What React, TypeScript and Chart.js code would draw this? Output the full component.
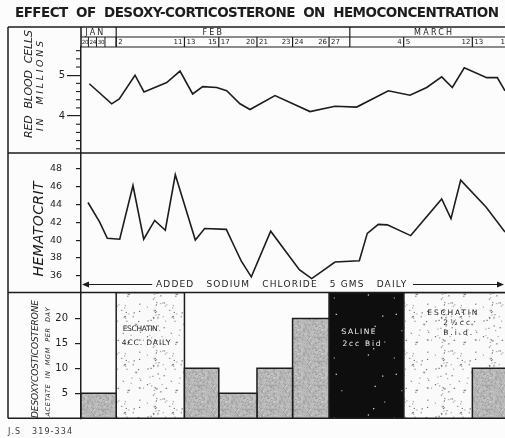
import React, { useEffect, useRef } from 'react';
import { Chart, registerables } from 'chart.js';

Chart.register(...registerables);

// ---------------- data ----------------
const TITLE = 'EFFECT  OF  DESOXY-CORTICOSTERONE  ON  HEMOCONCENTRATION';

// x = position along the dated strip (0 = first column, 100 = right edge of the sheet)
const months = ['JAN', 'FEB', 'MARCH'];
const monthStart = [0, 8.3, 63.4];
const monthLabelAt = [3.4, 31.2, 83.3];

const janDays = ['20', '24', '30'];
const janDayEnd = [1.75, 3.65, 5.65];

const periodEdges = [8.3, 24.4, 32.5, 41.5, 49.9, 58.5, 76.1, 92.3, 101.5];
const periodFirstDay = ['2', '13', '17', '21', '24', '27', '5', '13'];
const periodLastDay = ['11', '15', '20', '23', '26', '4', '12', '16'];

const rbcX = [1.96, 7.24, 9.03, 12.74, 14.86, 20.21, 23.35, 26.34, 28.7, 32.0, 34.36, 37.5, 39.86,
  45.75, 54.01, 59.91, 65.02, 72.48, 77.59, 81.53, 85.07, 87.57, 90.4, 95.68, 98.18, 100];
const rbcMillions = [4.79, 4.30, 4.42, 5.00, 4.59, 4.82, 5.10, 4.54, 4.72, 4.70, 4.62, 4.30, 4.16,
  4.50, 4.11, 4.24, 4.22, 4.62, 4.51, 4.70, 4.96, 4.70, 5.18, 4.94, 4.94, 4.62];
const rbcTicks = [4, 5];
const rbcMinorTicks = [3.2, 3.4, 3.6, 3.8, 4.2, 4.4, 4.6, 4.8, 5.2, 5.4, 5.6];

const hctX = [1.65, 4.41, 6.2, 9.13, 12.26, 14.79, 17.38, 19.88, 22.24, 26.96, 29.17, 34.27, 36.25,
  37.81, 40.17, 44.74, 51.49, 54.41, 59.91, 65.64, 67.52, 70.12, 72.24, 77.76, 85.07, 87.26, 89.55,
  95.52, 100];
const hctPercent = [44.2, 42.0, 40.2, 40.1, 46.1, 40.1, 42.2, 41.1, 47.3, 40.0, 41.3, 41.2, 39.2,
  37.65, 35.9, 41.0, 36.7, 35.7, 37.55, 37.7, 40.75, 41.75, 41.7, 40.5, 44.6, 42.4, 46.7, 43.7, 40.9];
const hctTicks = [36, 38, 40, 42, 44, 46, 48];

const doseFrom = [0, 24.4, 32.5, 41.5, 49.9, 92.3];
const doseTo = [8.3, 32.5, 41.5, 49.9, 58.5, 101.5];
const doseMg = [5, 10, 5, 10, 20, 10];
const doseTicks = [5, 10, 15, 20];

const treatmentFrom = [8.3, 58.5, 76.1];
const treatmentTo = [24.4, 76.1, 101.5];
const treatmentKind = ['stipple', 'black', 'stipple'];
const treatmentLines = [['ESCHATIN', '4CC. DAILY'], ['SALINE', '2cc Bid'], ['ESCHATIN', '2½cc', 'B.i.d.']];

const saltNote = 'ADDED   SODIUM   CHLORIDE   5 GMS   DAILY';
const sheetNote = 'J.S   319-334';

// ---------------- style / layout ----------------
const W = 505;
const H = 438;
const INK = '#1d1d1d';
const PAPER = '#fcfcfc';
const SANS = '"DejaVu Sans", "Liberation Sans", sans-serif';
const RBC_MIN = 3.094, RBC_MAX = 5.69;
const HCT_MIN = 34.14, HCT_MAX = 49.72;
const DOSE_MIN = 0, DOSE_MAX = 25.17;
const AXIS_W = 73;

// label layout inside the treatment blocks: [dx from block left, dy from panel top, width]
const treatmentLabelLayout = [
  [[6.5, 36, 35], [5.5, 50, 49]],
  [[12.5, 39, 34], [13.5, 51, 38]],
  [[23.7, 20, 50], [39.5, 30, 27], [39.5, 40, 29]],
];

function fit(ctx: CanvasRenderingContext2D, text: string, x: number, y: number, width: number,
  font: string, align: 'left' | 'center' | 'right' = 'center', color?: string) {
  ctx.save();
  ctx.font = font;
  if (color) ctx.fillStyle = color;
  (ctx as any).letterSpacing = '0px';
  const natural = ctx.measureText(text).width;
  const n = Array.from(text).length;
  const ls = n > 1 ? (width - natural) / (n - 1) : 0;
  (ctx as any).letterSpacing = `${ls}px`;
  ctx.textAlign = 'left';
  ctx.textBaseline = 'middle';
  const x0 = align === 'left' ? x : align === 'right' ? x - width : x - width / 2;
  ctx.fillText(text, x0, y);
  ctx.restore();
}

function txt(ctx: CanvasRenderingContext2D, text: string, x: number, y: number, font: string,
  align: CanvasTextAlign, spacing = 0) {
  ctx.save();
  ctx.font = font;
  (ctx as any).letterSpacing = `${spacing}px`;
  ctx.textAlign = align;
  ctx.textBaseline = 'middle';
  ctx.fillText(text, x, y);
  ctx.restore();
}

function makePattern(size: number, base: string, dots: number, shades: string[], seed: number, r: number) {
  const c = document.createElement('canvas');
  c.width = size; c.height = size;
  const g = c.getContext('2d')!;
  g.fillStyle = base;
  g.fillRect(0, 0, size, size);
  let s = seed;
  const next = () => { s = (s * 1103515245 + 12345) & 0x7fffffff; return s / 0x7fffffff; };
  for (let i = 0; i < dots; i++) {
    g.fillStyle = shades[Math.floor(next() * shades.length)];
    const px = next() * size, py = next() * size;
    g.fillRect(px, py, r, r);
  }
  return g.createPattern(c, 'repeat')!;
}

const sheetPlugin = {
  id: 'sheet',
  beforeDraw(chart: any) {
    const { ctx } = chart;
    ctx.save();
    ctx.fillStyle = PAPER;
    ctx.fillRect(0, 0, chart.width, chart.height);
    ctx.restore();
  },
  afterDraw(chart: any) {
    const { ctx, chartArea: ca } = chart;
    const x = chart.scales.x, yR = chart.scales.yRbc, yH = chart.scales.yHct, yD = chart.scales.yDose;
    const px = (v: number) => x.getPixelForValue(v);
    const rowH = 10;
    const frameTop = ca.top - 2 * rowH;
    const frameLeft = 8;
    const right = chart.width;
    ctx.save();
    ctx.strokeStyle = INK;
    ctx.fillStyle = INK;
    const seg = (x1: number, y1: number, x2: number, y2: number, w = 1.5) => {
      ctx.lineWidth = w;
      ctx.beginPath(); ctx.moveTo(x1, y1); ctx.lineTo(x2, y2); ctx.stroke();
    };

    // title
    fit(ctx, TITLE, 15, 13.5, 484, `bold 13.5px ${SANS}`, 'left');

    // frame
    seg(frameLeft, frameTop, right, frameTop);
    seg(frameLeft, frameTop, frameLeft, yD.bottom);
    seg(frameLeft, yR.bottom, right, yR.bottom);
    seg(frameLeft, yH.bottom, right, yH.bottom);
    seg(frameLeft, yD.bottom, right, yD.bottom);
    seg(ca.left, frameTop, ca.left, ca.top);
    seg(ca.left, frameTop + rowH, right, frameTop + rowH, 1.2);
    seg(ca.left, ca.top, right, ca.top, 1.2);

    // month row
    months.forEach((m, i) => {
      if (i > 0) seg(px(monthStart[i]), frameTop, px(monthStart[i]), ca.top, 1.2);
      txt(ctx, m, px(monthLabelAt[i]), frameTop + rowH / 2 + 0.5, `8px ${SANS}`, 'center', 2.2);
    });
    // date row
    const dateY = frameTop + rowH * 1.5 + 0.5;
    const dateFont = `7px ${SANS}`;
    janDays.forEach((d, i) => {
      const start = i === 0 ? ca.left : px(janDayEnd[i - 1]);
      const end = px(janDayEnd[i]);
      txt(ctx, d, (start + end) / 2 + 0.3, dateY, `5.6px ${SANS}`, 'center', -0.2);
      seg(end, frameTop + rowH, end, ca.top, 1);
    });
    periodEdges.forEach((e, i) => {
      seg(px(e), frameTop + rowH, px(e), ca.top, 1.2);
      if (i < periodFirstDay.length) {
        txt(ctx, periodFirstDay[i], px(e) + 2, dateY, dateFont, 'left');
        txt(ctx, periodLastDay[i], px(periodEdges[i + 1]) - 2, dateY, dateFont, 'right');
      }
    });

    // minor ticks of the red cell scale
    rbcMinorTicks.forEach((v) => {
      const y = yR.getPixelForValue(v);
      seg(ca.left - 5, y, ca.left, y, 1.1);
    });

    // panel titles (rotated)
    const vtext = (text: string, cx: number, cy: number, len: number, font: string) => {
      ctx.save();
      ctx.translate(cx, cy);
      ctx.rotate(-Math.PI / 2);
      fit(ctx, text, 0, 0, len, font, 'center');
      ctx.restore();
    };
    vtext('RED  BLOOD  CELLS', 29, 84, 108, `italic 11px ${SANS}`);
    vtext('IN  MILLIONS', 41, 86, 90, `italic 9.5px ${SANS}`);
    vtext('HEMATOCRIT', 39, 229, 95, `italic 14px ${SANS}`);
    vtext('DESOXYCOSTICOSTERONE', 36, 359, 118, `italic 9px ${SANS}`);
    vtext('ACETATE  IN  MGM  PER  DAY', 48.5, 362, 109, `italic 6.5px ${SANS}`);

    // sodium chloride arrow
    const ay = yH.bottom - 8;
    fit(ctx, saltNote, px(17.7), ay, px(76.7) - px(17.7), `9px ${SANS}`, 'left');
    seg(ca.left + 2, ay, px(16.8), ay, 1.1);
    seg(px(78.3), ay, ca.right - 2, ay, 1.1);
    ctx.beginPath();
    ctx.moveTo(ca.left + 1, ay); ctx.lineTo(ca.left + 8, ay - 3); ctx.lineTo(ca.left + 8, ay + 3); ctx.closePath(); ctx.fill();
    ctx.beginPath();
    ctx.moveTo(ca.right - 1, ay); ctx.lineTo(ca.right - 8, ay - 3); ctx.lineTo(ca.right - 8, ay + 3); ctx.closePath(); ctx.fill();

    // treatment labels
    treatmentLines.forEach((lines, t) => {
      const left = px(treatmentFrom[t]);
      const color = treatmentKind[t] === 'black' ? '#f4f4f4' : INK;
      lines.forEach((line, k) => {
        const [dx, dy, w] = treatmentLabelLayout[t][k];
        fit(ctx, line, left + dx, yD.top + dy, w, `7.5px ${SANS}`, 'left', color);
      });
    });

    // sheet note
    fit(ctx, sheetNote, 8, 432, 64, `8px ${SANS}`, 'left', '#3a3a3a');
    ctx.restore();
  },
};

export default function App() {
  const ref = useRef<HTMLCanvasElement>(null);
  useEffect(() => {
    const canvas = ref.current;
    if (!canvas) return;
    const gray = makePattern(24, '#bababa', 260, ['#8e8e8e', '#9c9c9c', '#cdcdcd', '#d8d8d8', '#a5a5a5'], 11, 1);
    const stipple = makePattern(48, '#fafafa', 70, ['#6e6e6e', '#8a8a8a', '#a8a8a8'], 7, 1.2);
    const black = makePattern(60, '#0e0e0e', 8, ['#8a8a8a', '#cfcfcf'], 3, 1.3);

    const lineStyle = { borderColor: INK, borderWidth: 1.6, pointRadius: 0, tension: 0, fill: false, xAxisID: 'x' };
    const rect = (from: number, to: number, top: number) => [
      { x: from, y: DOSE_MIN }, { x: from, y: top }, { x: to, y: top }, { x: to, y: DOSE_MIN },
    ];

    const datasets: any[] = [
      { ...lineStyle, label: 'Red blood cells (millions)', yAxisID: 'yRbc', order: 0,
        data: rbcX.map((xv, i) => ({ x: xv, y: rbcMillions[i] })) },
      { ...lineStyle, label: 'Hematocrit', yAxisID: 'yHct', order: 0,
        data: hctX.map((xv, i) => ({ x: xv, y: hctPercent[i] })) },
      ...doseMg.map((mg, i) => ({
        label: `Desoxycorticosterone ${mg} mg`, yAxisID: 'yDose', xAxisID: 'x', order: 1,
        data: rect(doseFrom[i], doseTo[i], mg), fill: 'origin', backgroundColor: gray,
        borderColor: INK, borderWidth: 1.5, pointRadius: 0, tension: 0,
      })),
      ...treatmentKind.map((kind, i) => ({
        label: treatmentLines[i].join(' '), yAxisID: 'yDose', xAxisID: 'x', order: 2,
        data: rect(treatmentFrom[i], treatmentTo[i], DOSE_MAX), fill: 'origin',
        backgroundColor: kind === 'black' ? black : stipple,
        borderColor: INK, borderWidth: 1.5, pointRadius: 0, tension: 0,
      })),
    ];

    const axisBase = (ticks: number[], tickLength: number, padding: number, size: number) => ({
      type: 'linear', position: 'left', stack: 'panels',
      afterBuildTicks: (s: any) => { s.ticks = ticks.map((value) => ({ value })); },
      afterFit: (s: any) => { s.width = AXIS_W; },
      ticks: { color: INK, padding, autoSkip: false, font: { family: 'DejaVu Sans', size }, callback: (v: any) => String(v) },
      grid: { drawOnChartArea: false, drawTicks: true, tickLength, color: INK, lineWidth: 1.2 },
      border: { display: true, color: INK, width: 1.5 },
    });

    const chart = new Chart(canvas, {
      type: 'line',
      data: { datasets },
      options: {
        responsive: false,
        animation: false,
        events: [],
        layout: { padding: { left: 8, top: 47, right: 0, bottom: 13 } },
        plugins: { legend: { display: false }, tooltip: { enabled: false }, title: { display: false } },
        scales: {
          x: { type: 'linear', min: 0, max: 100, display: false },
          yRbc: { ...axisBase(rbcTicks, 14, 2, 10), min: RBC_MIN, max: RBC_MAX, stackWeight: 108, weight: 3 },
          yHct: { ...axisBase(hctTicks, 5, 14, 9.5), min: HCT_MIN, max: HCT_MAX, stackWeight: 142, weight: 2 },
          yDose: { ...axisBase(doseTicks, 6, 7, 10), min: DOSE_MIN, max: DOSE_MAX, stackWeight: 128, weight: 1 },
        } as any,
      },
      plugins: [sheetPlugin],
    } as any);
    return () => chart.destroy();
  }, []);

  return (
    <div style={{ position: 'absolute', left: 0, top: 0, width: W, height: H, overflow: 'hidden', background: PAPER }}>
      <canvas ref={ref} width={W} height={H} style={{ display: 'block', width: W, height: H }} />
    </div>
  );
}
